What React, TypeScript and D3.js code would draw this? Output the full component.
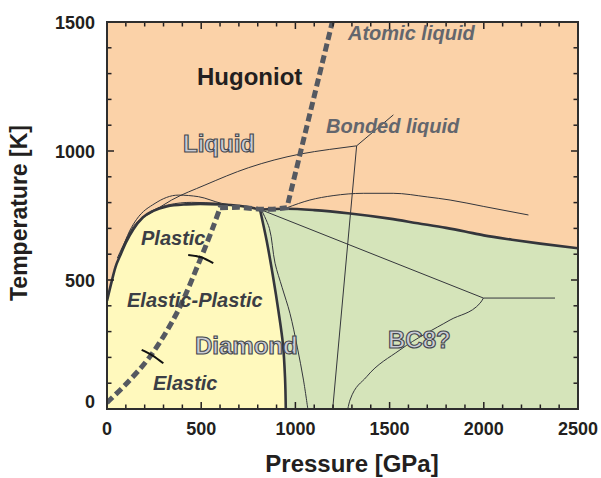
import React from "react";
import * as d3 from "d3";

// ---- data (pressure GPa, temperature K) ----
const pressureTicks = [0, 500, 1000, 1500, 2000, 2500];
const temperatureTicks = [0, 500, 1000, 1500];
const pressureMinor = d3.range(0, 2501, 100);
const temperatureMinor = d3.range(0, 1501, 100);

const diamondMelt: [number, number][] = [
  [0, 420], [20, 480], [45, 550], [70, 595], [100, 645], [140, 697], [190, 742],
  [246, 768], [317, 785], [420, 793], [494, 795], [600, 793], [670, 790], [740, 784], [812, 773],
];
const bc8Melt: [number, number][] = [
  [812, 773], [950, 776], [1100, 771], [1290, 758], [1500, 738], [1650, 720],
  [1800, 702], [1900, 688], [2000, 673], [2150, 656], [2300, 641], [2500, 623],
];
const diamondBC8: [number, number][] = [
  [812, 773], [848, 650], [882, 510], [910, 380], [934, 250], [945, 120], [949, 0],
];
const thinNearDiamond: [number, number][] = [
  [820, 771], [862, 700], [892, 565], [930, 470], [971, 371], [1010, 240], [1043, 112], [1066, 0],
];
const bondedLine: [number, number][] = [
  [75, 610], [140, 708], [184, 739], [228, 758], [343, 810], [520, 868], [750, 935],
  [1024, 988], [1180, 1006], [1325, 1020],
];
const bondedUpper: [number, number][] = [[1325, 1020], [1520, 1140]];
const bondedVertical: [number, number][] = [[1325, 1020], [1198, 0]];
const bumpLine: [number, number][] = [
  [75, 610], [120, 690], [157, 735], [255, 797], [378, 829], [485, 823], [609, 797], [700, 787], [790, 776],
];
const nearMelt: [number, number][] = [
  [55, 585], [110, 668], [170, 728], [250, 772], [330, 792], [450, 801], [600, 797],
];
const liquid2: [number, number][] = [
  [955, 780], [1077, 810], [1200, 827], [1360, 836], [1519, 836], [1700, 822],
  [1821, 810], [2000, 785], [2237, 752],
];
const bc8Split: [number, number][] = [[822, 771], [1998, 430]];
const bc8Horizontal: [number, number][] = [[1998, 430], [2378, 430]];
const bc8Curve: [number, number][] = [
  [1278, 0], [1290, 35], [1378, 125], [1555, 229], [1821, 345], [1980, 410], [1998, 430],
];
const hugoniotLow: [number, number][] = [
  [0, 25], [104, 99], [228, 203], [370, 371], [494, 578], [564, 707], [600, 780],
];
const hugoniotHigh: [number, number][] = [
  [600, 780], [700, 782], [800, 775], [880, 774], [955, 780], [1196, 1500],
];
const hugoniotMarks: [number, number][][] = [
  [[184, 229], [240, 208], [299, 177]],
  [[431, 597], [500, 588], [564, 565]],
];

// ---- geometry ----
const W = 601, H = 478;
const x = d3.scaleLinear().domain([0, 2500]).range([107, 578]);
const y = d3.scaleLinear().domain([0, 1500]).range([409, 22]);

const curved = d3.line<[number, number]>().x(d => x(d[0])).y(d => y(d[1])).curve(d3.curveCatmullRom.alpha(0.5));
const mono = d3.line<[number, number]>().x(d => x(d[0])).y(d => y(d[1])).curve(d3.curveMonotoneX);
const straight = d3.line<[number, number]>().x(d => x(d[0])).y(d => y(d[1]));
const cont = (s: string | null) => (s || "").replace(/^M/, "L");

const FONT = "'Liberation Sans', Arial, Helvetica, sans-serif";
const INK = "#231f20";
const LINE = "#34363c";

export default function App() {
  const yellowPath =
    `M${x(0)},${y(0)}` + cont(mono(diamondMelt)) + cont(curved(diamondBC8)) + "Z";
  const greenPath =
    `M${x(949)},${y(0)}` + cont(curved([...diamondBC8].reverse())) + cont(mono(bc8Melt)) +
    `L${x(2500)},${y(0)}Z`;
  const hugPath = (curved(hugoniotLow) || "") + cont(straight(hugoniotHigh));

  const thinMono = [bondedLine, bumpLine, nearMelt, liquid2, bc8Curve];
  const thinCurved = [thinNearDiamond];
  const thinStraight = [bondedUpper, bondedVertical, bc8Split, bc8Horizontal];

  const outlineText = (t: string, tx: number, ty: number) => (
    <text x={tx} y={ty} fontFamily={FONT} fontWeight="bold" fontSize={24}
      fill="#c9ccd6" stroke="#44474e" strokeWidth={1.1}>{t}</text>
  );
  const italic = (t: string, tx: number, ty: number, color: string) => (
    <text x={tx} y={ty} fontFamily={FONT} fontWeight="bold" fontStyle="italic" fontSize={20} fill={color}>{t}</text>
  );

  return (
    <svg width={W} height={H} style={{ position: "absolute", left: 0, top: 0, background: "#fff" }}>
      <defs>
        <clipPath id="plot">
          <rect x={x(0)} y={y(1500)} width={x(2500) - x(0)} height={y(0) - y(1500)} />
        </clipPath>
      </defs>
      <rect x={x(0)} y={y(1500)} width={x(2500) - x(0)} height={y(0) - y(1500)} fill="#fbd2a8" />
      <g clipPath="url(#plot)">
        <path d={yellowPath} fill="#fff9bd" />
        <path d={greenPath} fill="#d5e4ba" />
        {thinMono.map((d, i) => (
          <path key={"t" + i} d={mono(d) || ""} fill="none" stroke={LINE} strokeWidth={1} />
        ))}
        {thinCurved.map((d, i) => (
          <path key={"c" + i} d={curved(d) || ""} fill="none" stroke={LINE} strokeWidth={1} />
        ))}
        {thinStraight.map((d, i) => (
          <path key={"s" + i} d={straight(d) || ""} fill="none" stroke={LINE} strokeWidth={1} />
        ))}
        <path d={mono(diamondMelt) || ""} fill="none" stroke={LINE} strokeWidth={2.6} />
        <path d={mono(bc8Melt) || ""} fill="none" stroke={LINE} strokeWidth={2.6} />
        <path d={curved(diamondBC8) || ""} fill="none" stroke={LINE} strokeWidth={2.6} />
        <path d={hugPath} fill="none" stroke="#555961" strokeWidth={5} strokeDasharray="8,4" />
        {hugoniotMarks.map((d, i) => (
          <path key={"m" + i} d={curved(d) || ""} fill="none" stroke="#111" strokeWidth={2} />
        ))}
      </g>

      {/* ticks */}
      {pressureMinor.map(p => {
        const major = p % 500 === 0;
        const len = major ? 7 : 4.5;
        return (
          <g key={"px" + p}>
            <line x1={x(p)} x2={x(p)} y1={y(0)} y2={y(0) - len} stroke={INK} strokeWidth={1.5} />
            <line x1={x(p)} x2={x(p)} y1={y(1500)} y2={y(1500) + len} stroke={INK} strokeWidth={1.5} />
          </g>
        );
      })}
      {temperatureMinor.map(t => {
        const major = t % 500 === 0;
        const len = major ? 7 : 4.5;
        return (
          <g key={"ty" + t}>
            <line x1={x(0)} x2={x(0) + len} y1={y(t)} y2={y(t)} stroke={INK} strokeWidth={1.5} />
            <line x1={x(2500)} x2={x(2500) - len} y1={y(t)} y2={y(t)} stroke={INK} strokeWidth={1.5} />
          </g>
        );
      })}
      <rect x={x(0)} y={y(1500)} width={x(2500) - x(0)} height={y(0) - y(1500)} fill="none" stroke="#2e2e2e" strokeWidth={2} />

      {/* tick labels */}
      {pressureTicks.map(p => (
        <text key={"pl" + p} x={x(p)} y={435} textAnchor="middle" fontFamily={FONT} fontWeight="bold" fontSize={18} fill={INK}>{p}</text>
      ))}
      {temperatureTicks.map(t => (
        <text key={"tl" + t} x={95} y={t === 0 ? 408 : y(t) + 6.5} textAnchor="end" fontFamily={FONT} fontWeight="bold" fontSize={18} fill={INK}>{t}</text>
      ))}

      {/* axis titles */}
      <text x={352} y={472} textAnchor="middle" fontFamily={FONT} fontWeight="bold" fontSize={24} fill={INK}>Pressure [GPa]</text>
      <text transform="translate(27,213) rotate(-90)" textAnchor="middle" fontFamily={FONT} fontWeight="bold" fontSize={23} fill={INK}>Temperature [K]</text>

      {/* region labels */}
      <text x={197} y={85} fontFamily={FONT} fontWeight="bold" fontSize={24} fill={INK}>Hugoniot</text>
      {outlineText("Liquid", 183, 151.5)}
      {outlineText("Diamond", 195, 354)}
      {outlineText("BC8?", 388, 348)}
      {italic("Atomic liquid", 348, 40, "#63666d")}
      {italic("Bonded liquid", 326, 133, "#63666d")}
      {italic("Plastic", 141, 245, "#3b3e45")}
      {italic("Elastic-Plastic", 127, 306.5, "#3b3e45")}
      {italic("Elastic", 153, 390, "#3b3e45")}
    </svg>
  );
}
